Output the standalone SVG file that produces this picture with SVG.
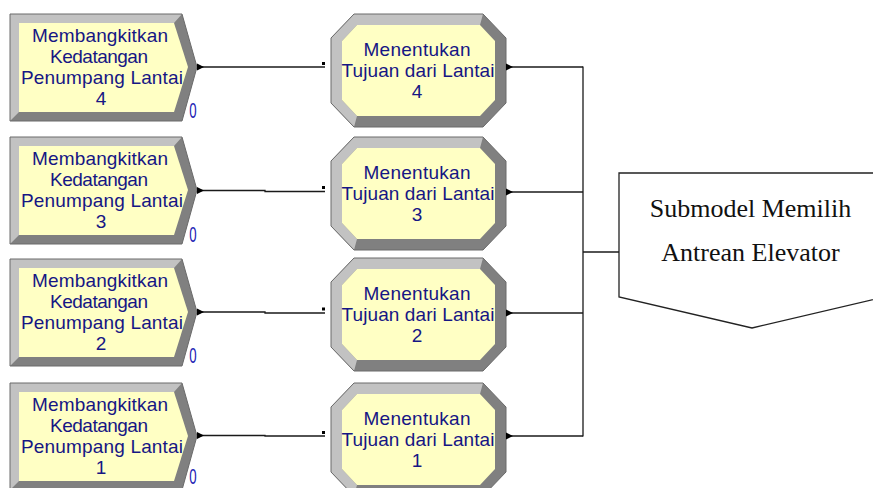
<svg xmlns="http://www.w3.org/2000/svg" width="873" height="488" viewBox="0 0 873 488">
<style>
.dark{fill:#808080}
.light{fill:#c2c2c2}
.yel{fill:#ffffc4}
.edge{fill:none;stroke:#6a6a6a;stroke-width:1}
.lbl{font-family:"Liberation Sans",Arial,sans-serif;font-size:19px;fill:#161684;text-anchor:middle}
.cnt{font-family:"Liberation Sans",Arial,sans-serif;font-size:22px;fill:#2020b4;text-anchor:middle}
.sub{font-family:"Liberation Serif","Times New Roman",serif;font-size:26px;fill:#111;text-anchor:middle}
.ln{fill:none;stroke:#1a1a1a;stroke-width:1.3}
.ah{fill:#000}
</style>
<defs>
<g id="createShape">
<polygon class="dark" points="10,0 182,0 197,53 182,107 10,107"/>
<polygon class="light" points="10,107 10,0 182,0 174,9 19,9 19,98"/>
<polygon class="yel" points="19,9 174,9 188,53 174,98 19,98"/>
<polygon class="edge" points="10,0 182,0 197,53 182,107 10,107"/>
</g>
<g id="procShape">
<polygon class="dark" points="354,0 483,0 506,24 506,89 483,113 354,113 331,89 331,24"/>
<polygon class="light" points="354,113 331,89 331,24 354,0 483,0 480,11 357,11 342,27 342,86 357,102"/>
<polygon class="yel" points="357,11 480,11 495,27 495,86 480,102 357,102 342,86 342,27"/>
<polygon class="edge" points="354,0 483,0 506,24 506,89 483,113 354,113 331,89 331,24"/>
</g>
</defs>

<g id="create4" transform="translate(0,14)">
<use href="#createShape"/>
<text class="lbl" x="100" y="27.5" textLength="136">Membangkitkan</text>
<text class="lbl" x="99" y="48.5" textLength="98">Kedatangan</text>
<text class="lbl" x="102" y="70" textLength="162">Penumpang Lantai</text>
<text class="lbl" x="101" y="90.5">4</text>
<text class="cnt" transform="translate(193,104) scale(0.6,1)">0</text>
</g>
<g id="create3" transform="translate(0,137)">
<use href="#createShape"/>
<text class="lbl" x="100" y="27.5" textLength="136">Membangkitkan</text>
<text class="lbl" x="99" y="48.5" textLength="98">Kedatangan</text>
<text class="lbl" x="102" y="70" textLength="162">Penumpang Lantai</text>
<text class="lbl" x="101" y="90.5">3</text>
<text class="cnt" transform="translate(193,105) scale(0.6,1)">0</text>
</g>
<g id="create2" transform="translate(0,259)">
<use href="#createShape"/>
<text class="lbl" x="100" y="27.5" textLength="136">Membangkitkan</text>
<text class="lbl" x="99" y="48.5" textLength="98">Kedatangan</text>
<text class="lbl" x="102" y="70" textLength="162">Penumpang Lantai</text>
<text class="lbl" x="101" y="90.5">2</text>
<text class="cnt" transform="translate(193,104) scale(0.6,1)">0</text>
</g>
<g id="create1" transform="translate(0,383)">
<use href="#createShape"/>
<text class="lbl" x="100" y="27.5" textLength="136">Membangkitkan</text>
<text class="lbl" x="99" y="48.5" textLength="98">Kedatangan</text>
<text class="lbl" x="102" y="70" textLength="162">Penumpang Lantai</text>
<text class="lbl" x="101" y="90.5">1</text>
<text class="cnt" transform="translate(193,101) scale(0.6,1)">0</text>
</g>

<g id="proc4" transform="translate(0,14)">
<use href="#procShape"/>
<text class="lbl" x="417" y="42" textLength="107">Menentukan</text>
<text class="lbl" x="418" y="63" textLength="153">Tujuan dari Lantai</text>
<text class="lbl" x="417" y="84">4</text>
</g>
<g id="proc3" transform="translate(0,137)">
<use href="#procShape"/>
<text class="lbl" x="417" y="42" textLength="107">Menentukan</text>
<text class="lbl" x="418" y="63" textLength="153">Tujuan dari Lantai</text>
<text class="lbl" x="417" y="84">3</text>
</g>
<g id="proc2" transform="translate(0,258)">
<use href="#procShape"/>
<text class="lbl" x="417" y="42" textLength="107">Menentukan</text>
<text class="lbl" x="418" y="63" textLength="153">Tujuan dari Lantai</text>
<text class="lbl" x="417" y="84">2</text>
</g>
<g id="proc1" transform="translate(0,383)">
<use href="#procShape"/>
<text class="lbl" x="417" y="42" textLength="107">Menentukan</text>
<text class="lbl" x="418" y="63" textLength="153">Tujuan dari Lantai</text>
<text class="lbl" x="417" y="84">1</text>
</g>

<g id="submodel">
<path d="M884,173 H619 V297 L752,328 L884,297" fill="#fff" stroke="#222" stroke-width="1.3"/>
<text class="sub" x="750.5" y="217">Submodel Memilih</text>
<text class="sub" x="750.5" y="261">Antrean Elevator</text>
</g>

<g id="connectors">
<polyline class="ln" points="197,67 325,67"/>
<polyline class="ln" points="197,190.5 265,190.5 265,191.5 325,191.5"/>
<polyline class="ln" points="197,312 265,312 265,313 325,313"/>
<polyline class="ln" points="197,435.5 265,435.5 265,436 325,436"/>
<polygon class="ah" points="197,63.5 204,67 197,70.5"/>
<polygon class="ah" points="197,187 204,190.5 197,194"/>
<polygon class="ah" points="197,308.5 204,312 197,315.5"/>
<polygon class="ah" points="197,432 204,435.5 197,439"/>
<rect class="ah" x="322" y="62" width="3" height="3"/>
<rect class="ah" x="322" y="186" width="3" height="3"/>
<rect class="ah" x="322" y="307.5" width="3" height="3"/>
<rect class="ah" x="322" y="431" width="3" height="3"/>
<polyline class="ln" points="507,67 583,67"/>
<polyline class="ln" points="507,192 583,192"/>
<polyline class="ln" points="507,313 583,313"/>
<polyline class="ln" points="507,436 583,436"/>
<polyline class="ln" points="583,66.4 583,436.6"/>
<polyline class="ln" points="583,252 619,252"/>
<polygon class="ah" points="506,63.5 513,67 506,70.5"/>
<polygon class="ah" points="506,188.5 513,192 506,195.5"/>
<polygon class="ah" points="506,309.5 513,313 506,316.5"/>
<polygon class="ah" points="506,432.5 513,436 506,439.5"/>
</g>
</svg>
